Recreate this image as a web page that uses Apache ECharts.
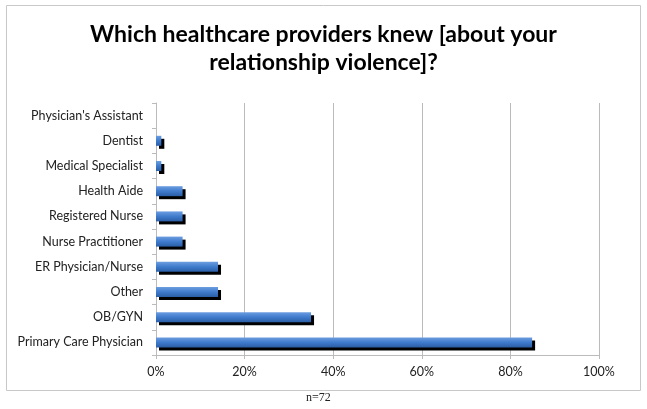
<!DOCTYPE html>
<html>
<head>
<meta charset="utf-8">
<script src="https://cdn.jsdelivr.net/npm/echarts@6/dist/echarts.min.js"></script>
<style>html,body{margin:0;padding:0;background:#fff;}#c{width:647px;height:409px;}</style>
</head>
<body>
<div id="c"></div>
<script>
const categories = ["Primary Care Physician","OB/GYN","Other","ER Physician/Nurse","Nurse Practitioner","Registered Nurse","Health Aide","Medical Specialist","Dentist","Physician's Assistant"];
const values = [84.9, 35.0, 14.0, 14.0, 6.0, 6.0, 6.0, 1.2, 1.2, 0];
const xTicks = [0, 20, 40, 60, 80, 100];
const titleText = "Which healthcare providers knew [about your\nrelationship violence]?";
const noteText = "n=72";

const chart = echarts.init(document.getElementById('c'), null, {renderer: 'canvas'});
chart.setOption({
  animation: false,
  backgroundColor: '#fff',
  title: {
    text: titleText,
    left: 'center',
    top: 16,
    textStyle: {fontFamily: 'Lato', fontWeight: 'bold', fontSize: 23, lineHeight: 28, color: '#000'}
  },
  grid: {left: 156, right: 48, top: 103, bottom: 54},
  xAxis: {
    type: 'value',
    min: xTicks[0], max: xTicks[xTicks.length - 1], interval: 20,
    axisLabel: {formatter: '{value}%', fontFamily: 'Lato', fontSize: 12.5, color: '#222', margin: 10},
    axisLine: {show: true, lineStyle: {color: '#bbb'}},
    axisTick: {show: true, length: 4, lineStyle: {color: '#bbb'}},
    splitLine: {show: true, lineStyle: {color: '#bbb', width: 1}}
  },
  yAxis: {
    type: 'category',
    data: categories,
    axisLabel: {fontFamily: 'Lato', fontSize: 12.5, color: '#222', margin: 13},
    axisLine: {show: true, lineStyle: {color: '#bbb'}},
    axisTick: {show: true, length: 4, lineStyle: {color: '#bbb'}}
  },
  graphic: [
    {type: 'rect', shape: {x: 6.5, y: 5.5, width: 634, height: 385}, style: {fill: 'none', stroke: '#c8c8c8', lineWidth: 1}, z: -1},
    {type: 'text', left: 306, top: 392, style: {text: noteText, font: '12px "Liberation Serif"', fill: '#222'}}
  ],
  series: [{
    type: 'bar',
    data: values,
    barWidth: 10,
    itemStyle: {
      color: new echarts.graphic.LinearGradient(0, 0, 0, 1, [
        {offset: 0, color: '#6c9de0'},
        {offset: 0.5, color: '#3f7bcc'},
        {offset: 1, color: '#2b5ea6'}
      ]),
      shadowColor: '#000',
      shadowBlur: 0,
      shadowOffsetX: 3,
      shadowOffsetY: 3
    }
  }]
});
</script>
</body>
</html>
